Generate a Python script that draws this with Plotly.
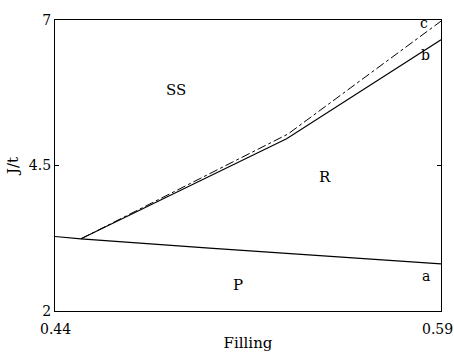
import plotly.graph_objects as go

# Data
a_x = [0.44, 0.4501, 0.50, 0.59]
a_y = [3.28, 3.24, 3.08, 2.81]
b_x = [0.4501, 0.530, 0.59]
b_y = [3.24, 4.96, 6.66]
c_x = [0.4501, 0.5305, 0.59]
c_y = [3.24, 5.04, 6.98]
x_ticks = [0.44, 0.59]
x_ticklabels = ["0.44", "0.59"]
y_ticks = [2, 4.5, 7]
y_ticklabels = ["2", "4.5", "7"]
region_labels = [("SS", 0.487, 5.8), ("R", 0.545, 4.3), ("P", 0.511, 2.45)]
line_labels = [("a", 0.584, 2.6), ("b", 0.584, 6.4), ("c", 0.5835, 6.95)]

font = "DejaVu Serif"
fig = go.Figure()
fig.add_trace(go.Scatter(x=a_x, y=a_y, mode="lines", line=dict(color="black", width=1.1)))
fig.add_trace(go.Scatter(x=b_x, y=b_y, mode="lines", line=dict(color="black", width=1.1)))
fig.add_trace(go.Scatter(x=c_x, y=c_y, mode="lines", line=dict(color="black", width=1.0, dash="dashdot")))

for t, x, y in region_labels + line_labels:
    fig.add_annotation(x=x, y=y, text=t, showarrow=False,
                       font=dict(family=font, size=15 if t in ("SS", "R", "P") else 14, color="black"))

for v, t, xs in zip(x_ticks, x_ticklabels, [0, -4]):
    fig.add_annotation(x=v, xref="x", y=0, yref="paper", yshift=-18, xshift=xs, text=t,
                       showarrow=False, xanchor="center", yanchor="middle",
                       font=dict(family=font, size=14, color="black"))

fig.update_layout(
    width=454, height=360, showlegend=False,
    margin=dict(l=55, r=13, t=14, b=49),
    plot_bgcolor="white", paper_bgcolor="white",
    font=dict(family=font, size=14, color="black"),
)
fig.update_xaxes(range=[0.44, 0.59], tickvals=x_ticks, showticklabels=False,
                 showgrid=False, zeroline=False, showline=True, linecolor="black", linewidth=1.3,
                 mirror="ticks", ticks="inside", ticklen=4, tickcolor="black",
                 title=dict(text="Filling", standoff=26, font=dict(family=font, size=15)))
fig.update_yaxes(range=[2, 7], tickvals=y_ticks, ticktext=y_ticklabels,
                 showgrid=False, zeroline=False, showline=True, linecolor="black", linewidth=1.3,
                 mirror="ticks", ticks="inside", ticklen=4, tickcolor="black",
                 title=dict(text="J/t", standoff=6, font=dict(family=font, size=15)))
fig.write_html("out.html")
